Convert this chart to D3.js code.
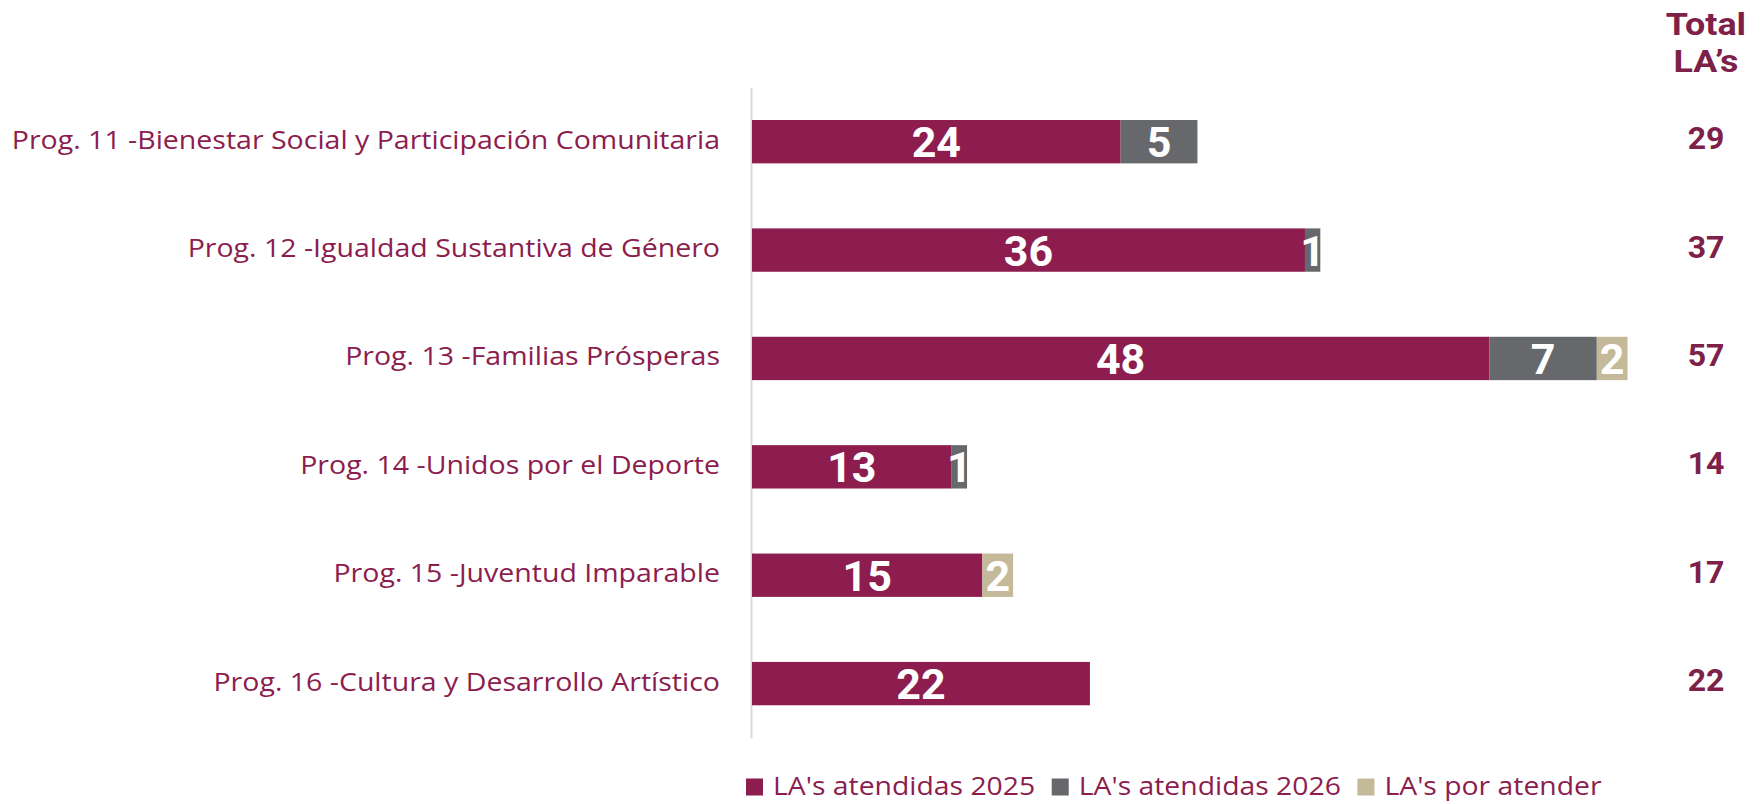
<!DOCTYPE html>
<html>
<head>
<meta charset="utf-8">
<script src="https://cdn.jsdelivr.net/npm/d3@7"></script>
<style>
  body { margin: 0; background: #ffffff; }
  svg { display: block; font-family: Roboto, "Noto Sans", sans-serif; }
</style>
</head>
<body>
<div class="canvas"></div>
<script>
// data
const programas = [
  'Prog. 11 -Bienestar Social y Participación Comunitaria',
  'Prog. 12 -Igualdad Sustantiva de Género',
  'Prog. 13 -Familias Prósperas',
  'Prog. 14 -Unidos por el Deporte',
  'Prog. 15 -Juventud Imparable',
  'Prog. 16 -Cultura y Desarrollo Artístico'
];
const atendidas2025 = [24, 36, 48, 13, 15, 22];
const atendidas2026 = [5, 1, 7, 1, 0, 0];
const porAtender = [0, 0, 2, 0, 2, 0];
const series = ["LA's atendidas 2025", "LA's atendidas 2026", "LA's por atender"];
const totalTitle = ['Total', 'LA’s'];

const colors = ['#8c1d4e', '#67686b', '#c4b998'];
const maroonText = '#8c1d4e';
const totalText = '#7e2148';

const width = 1763, height = 804;

// the original font is wider than anything installed, so stretch a bit
const labelStretch = 1.14;
const legendStretch = 1.09;
const titleStretch = 1.12;
function stretch(sel, k) {
  sel.each(function() {
    const len = this.getComputedTextLength();
    d3.select(this)
      .attr('textLength', len * k)
      .attr('lengthAdjust', 'spacingAndGlyphs');
  });
}

const svg = d3.select('.canvas')
  .append('svg')
    .attr('width', width)
    .attr('height', height);

// rows for the stack
const rows = programas.map((p, i) => ({
  programa: p,
  [series[0]]: atendidas2025[i],
  [series[1]]: atendidas2026[i],
  [series[2]]: porAtender[i]
}));
const totals = rows.map(r => d3.sum(series, s => r[s]));

const stacked = d3.stack().keys(series)(rows);

const y = d3.scaleBand()
  .domain(programas)
  .range([87.5, 737.8])
  .paddingInner(0.6)
  .paddingOuter(0.3);

const x = d3.scaleLinear()
  .domain([0, d3.max(totals)])
  .range([752, 752 + d3.max(totals) * 15.36]);

// left axis carries the category labels
const yAxis = svg.append('g')
  .attr('transform', `translate(751,0)`)
  .call(d3.axisLeft(y).tickSize(0).tickPadding(31));
yAxis.select('.domain')
  .attr('stroke', '#d9d9d9')
  .attr('stroke-width', 2);
yAxis.selectAll('text')
  .attr('fill', maroonText)
  .attr('dy', '0.28em')
  .style('font-size', '25px')
  .style('font-family', '"Open Sans", sans-serif')
  .call(stretch, labelStretch);

// bars
const layers = svg.append('g').selectAll('g')
  .data(stacked)
  .join('g')
    .attr('fill', (d, i) => colors[i]);

layers.selectAll('rect')
  .data(d => d.filter(v => v[1] - v[0] > 0))
  .join('rect')
    .attr('x', d => x(d[0]))
    .attr('width', d => x(d[1]) - x(d[0]))
    .attr('y', d => y(d.data.programa))
    .attr('height', y.bandwidth());

// values inside the segments
layers.selectAll('text')
  .data(d => d.filter(v => v[1] - v[0] > 0))
  .join('text')
    .attr('x', d => (x(d[0]) + x(d[1])) / 2)
    .attr('y', d => y(d.data.programa) + y.bandwidth() / 2)
    .attr('dy', '0.36em')
    .attr('text-anchor', 'middle')
    .attr('fill', '#ffffff')
    .style('font-size', '43px')
    .style('font-weight', 700)
    .text(d => d[1] - d[0]);

// totals column
const totalX = 1706;
svg.append('g').selectAll('text')
  .data(totalTitle)
  .join('text')
    .attr('x', totalX)
    .attr('y', (d, i) => 34.5 + i * 37.6)
    .attr('text-anchor', 'middle')
    .attr('fill', totalText)
    .style('font-size', '32px')
    .style('font-weight', 700)
    .text(d => d)
    .call(stretch, titleStretch);

svg.append('g').selectAll('text')
  .data(totals)
  .join('text')
    .attr('x', totalX)
    .attr('y', (d, i) => y(programas[i]) + y.bandwidth() / 2 - 4)
    .attr('dy', '0.36em')
    .attr('text-anchor', 'middle')
    .attr('fill', totalText)
    .style('font-size', '32px')
    .style('font-weight', 700)
    .text(d => d);

// legend
const legend = svg.append('g').attr('transform', 'translate(746,787)');
let lx = 0;
series.forEach((s, i) => {
  const item = legend.append('g').attr('transform', `translate(${lx},0)`);
  item.append('rect')
    .attr('x', 0).attr('y', -8.5)
    .attr('width', 17).attr('height', 17)
    .attr('fill', colors[i]);
  const t = item.append('text')
    .attr('x', 27)
    .attr('dy', '0.3em')
    .attr('fill', maroonText)
    .style('font-size', '26px')
    .style('font-family', '"Open Sans", sans-serif')
    .text(s)
    .call(stretch, legendStretch);
  lx += 27 + +t.attr('textLength') + 16.5;
});
</script>
</body>
</html>
